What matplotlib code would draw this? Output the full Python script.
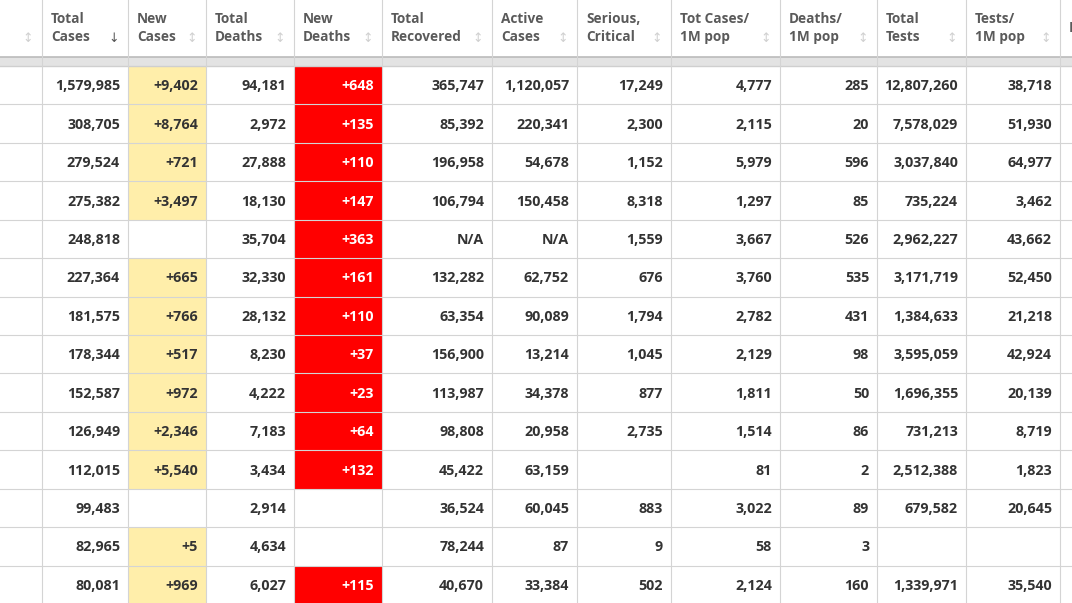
import matplotlib
matplotlib.use("Agg")
import matplotlib.pyplot as plt
from matplotlib.patches import Rectangle

headers = ["", "Total\nCases", "New\nCases", "Total\nDeaths", "New\nDeaths", "Total\nRecovered",
           "Active\nCases", "Serious,\nCritical", "Tot Cases/\n1M pop", "Deaths/\n1M pop",
           "Total\nTests", "Tests/\n1M pop", "P"]
total_cases = ["1,579,985","308,705","279,524","275,382","248,818","227,364","181,575","178,344","152,587","126,949","112,015","99,483","82,965","80,081"]
new_cases = ["+9,402","+8,764","+721","+3,497","","+665","+766","+517","+972","+2,346","+5,540","","+5","+969"]
total_deaths = ["94,181","2,972","27,888","18,130","35,704","32,330","28,132","8,230","4,222","7,183","3,434","2,914","4,634","6,027"]
new_deaths = ["+648","+135","+110","+147","+363","+161","+110","+37","+23","+64","+132","","","+115"]
total_recovered = ["365,747","85,392","196,958","106,794","N/A","132,282","63,354","156,900","113,987","98,808","45,422","36,524","78,244","40,670"]
active_cases = ["1,120,057","220,341","54,678","150,458","N/A","62,752","90,089","13,214","34,378","20,958","63,159","60,045","87","33,384"]
serious = ["17,249","2,300","1,152","8,318","1,559","676","1,794","1,045","877","2,735","","883","9","502"]
cases_per_m = ["4,777","2,115","5,979","1,297","3,667","3,760","2,782","2,129","1,811","1,514","81","3,022","58","2,124"]
deaths_per_m = ["285","20","596","85","526","535","431","98","50","86","2","89","3","160"]
total_tests = ["12,807,260","7,578,029","3,037,840","735,224","2,962,227","3,171,719","1,384,633","3,595,059","1,696,355","731,213","2,512,388","679,582","","1,339,971"]
tests_per_m = ["38,718","51,930","64,977","3,462","43,662","52,450","21,218","42,924","20,139","8,719","1,823","20,645","","35,540"]

cols = [total_cases, new_cases, total_deaths, new_deaths, total_recovered, active_cases,
        serious, cases_per_m, deaths_per_m, total_tests, tests_per_m]
edges = [0, 42, 128, 206, 294, 382, 492, 577, 671, 780, 877, 966, 1060, 1080]

W, H = 1072, 603
fig = plt.figure(figsize=(W/100, H/100), dpi=100)
ax = fig.add_axes([0, 0, 1, 1])
ax.set_xlim(0, W); ax.set_ylim(H, 0); ax.axis("off")
font = "Open Sans"
grid = "#d4d4d4"

head_bot, band_bot = 57, 66
rh = (H - band_bot + 1) / 14
ax.add_patch(Rectangle((0, head_bot), W, band_bot-head_bot, color="#e3e3e3", lw=0))
ax.plot([0, W], [head_bot, head_bot], color="#bbbbbb", lw=1.2)
ax.plot([0, W], [band_bot, band_bot], color="#cfcfcf", lw=1)

for i, h in enumerate(headers):
    x0 = edges[i]
    ax.text(x0+9, 28, h, ha="left", va="center", fontsize=9.8, color="#5a5a5a",
            family=font, fontweight="bold", linespacing=1.45, clip_on=True)
    if 0 <= i <= 11:
        ax.text(edges[i+1]-9, 38, "↓" if i == 1 else "↕", ha="right", va="center",
                fontsize=9, color="#555555" if i == 1 else "#d0d0d0", family="DejaVu Sans")

for r in range(14):
    y0 = band_bot + r*rh
    yc = y0 + rh/2
    for c, col in enumerate(cols):
        x0, x1 = edges[c+1], edges[c+2]
        v = col[r]
        color = "#333333"
        if c == 1 and v:
            ax.add_patch(Rectangle((x0, y0), x1-x0, rh, color="#ffeeaa", lw=0))
        if c == 3 and v:
            ax.add_patch(Rectangle((x0, y0), x1-x0, rh, color="#ff0000", lw=0))
            color = "white"
        ax.text(x1-8, yc+1, v, ha="right", va="center", fontsize=10.3, color=color,
                family=font, fontweight="bold")
    ax.plot([0, W], [y0+rh, y0+rh], color=grid, lw=0.8)

for x in edges[1:-1]:
    ax.plot([x, x], [0, H], color=grid, lw=0.8)

fig.savefig("out.png", dpi=100)
